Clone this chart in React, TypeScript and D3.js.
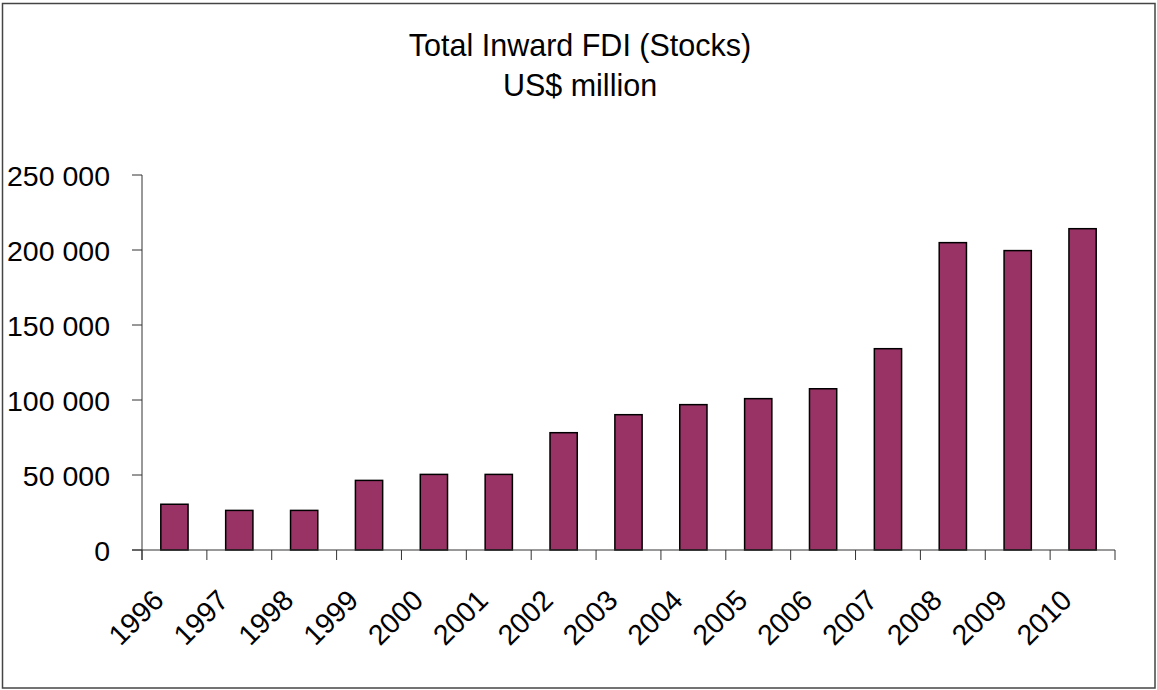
import React, { useEffect, useRef } from "react";
import * as d3 from "d3";

const years = ["1996","1997","1998","1999","2000","2001","2002","2003","2004","2005","2006","2007","2008","2009","2010"];
const values = [30500, 26400, 26400, 46400, 50400, 50400, 78200, 90200, 96900, 100900, 107500, 134200, 204900, 199600, 214200];
const yTicks = [0, 50000, 100000, 150000, 200000, 250000];
const titleLines = ["Total Inward FDI (Stocks)", "US$ million"];

const W = 1157, H = 690;
const m = { left: 142, right: 1115, top: 175, bottom: 550 };

export default function App() {
  const ref = useRef<SVGSVGElement>(null);
  useEffect(() => {
    const svg = d3.select(ref.current);
    svg.selectAll("*").remove();
    const font = "'Liberation Sans', Arial, sans-serif";

    // frame
    svg.append("rect").attr("x", 2.5).attr("y", 3.5).attr("width", 1152.5).attr("height", 684.5)
      .attr("fill", "white").attr("stroke", "#444").attr("stroke-width", 1.5);

    svg.selectAll("text.title").data(titleLines).enter().append("text")
      .attr("x", 580).attr("y", (d, i) => 56 + i * 40)
      .attr("text-anchor", "middle").attr("font-family", font).attr("font-size", 30.5)
      .attr("fill", "#000").text(d => d);

    const x = d3.scaleBand().domain(years).range([m.left, m.right]).paddingInner(0.58).paddingOuter(0.29);
    const y = d3.scaleLinear().domain([0, 250000]).range([m.bottom, m.top]);

    // bars
    svg.selectAll("rect.bar").data(values).enter().append("rect")
      .attr("x", (d, i) => x(years[i])!)
      .attr("y", d => y(d))
      .attr("width", x.bandwidth())
      .attr("height", d => y(0) - y(d))
      .attr("fill", "#993366").attr("stroke", "#000").attr("stroke-width", 1.5);

    // y axis
    const g = svg.append("g");
    g.append("line").attr("x1", m.left).attr("x2", m.left).attr("y1", m.top).attr("y2", m.bottom + 10)
      .attr("stroke", "#333").attr("stroke-width", 1);
    g.selectAll("line.yt").data(yTicks).enter().append("line")
      .attr("x1", m.left - 10).attr("x2", m.left).attr("y1", d => y(d)).attr("y2", d => y(d))
      .attr("stroke", "#333");
    const fmt = (v: number) => d3.format(",")(v).replace(/,/g, " ");
    g.selectAll("text.yl").data(yTicks).enter().append("text")
      .attr("x", 110).attr("y", d => y(d) + 11)
      .attr("text-anchor", "end").attr("font-family", font).attr("font-size", 28.5)
      .text(d => fmt(d));

    // x axis
    g.append("line").attr("x1", m.left - 10).attr("x2", m.right).attr("y1", m.bottom).attr("y2", m.bottom)
      .attr("stroke", "#333");
    const step = x.step();
    const bounds = years.map((_, i) => m.left + i * step).concat([m.right]);
    g.selectAll("line.xt").data(bounds).enter().append("line")
      .attr("x1", d => d).attr("x2", d => d).attr("y1", m.bottom).attr("y2", m.bottom + 10)
      .attr("stroke", "#333");
    g.selectAll("text.xl").data(years).enter().append("text")
      .attr("transform", d => `translate(${x(d)! + x.bandwidth() / 2 - 9},${m.bottom + 52}) rotate(-45)`)
      .attr("text-anchor", "end").attr("font-family", font).attr("font-size", 28.5)
      .text(d => d);
  }, []);
  return <svg ref={ref} width={W} height={H} style={{ position: "absolute", left: 0, top: 0 }} />;
}
